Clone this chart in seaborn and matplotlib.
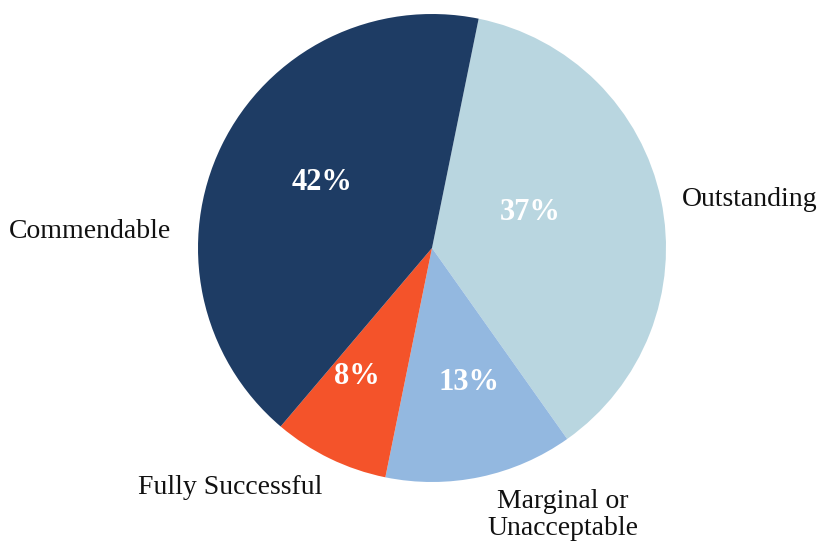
import matplotlib
matplotlib.use("Agg")
import matplotlib.pyplot as plt
import seaborn as sns

sns.set_theme(style="white")
plt.rcParams['font.family'] = ['Liberation Serif', 'DejaVu Serif']

# data (clockwise from top)
categories = ["Outstanding", "Marginal or\nUnacceptable", "Fully Successful", "Commendable"]
shares = [37, 13, 8, 42]
colors = ["#b9d6e0", "#93b8e0", "#f4532a", "#1e3c64"]

# label placement (pixel coords, y from top)
pct_pos = [(530, 212), (469, 383), (357, 377), (322, 183)]
name_pos = [(750, 200), (563, 515), (230, 487), (90, 232)]

W, H = 821, 551
fig = plt.figure(figsize=(W / 100, H / 100), dpi=100)
ax = fig.add_axes([0, 0, 1, 1])

cx, cy, r = 432, 248, 234
wedges, _ = ax.pie(shares, colors=colors, startangle=78.5, counterclock=False,
                   radius=r, center=(cx, H - cy), frame=True,
                   wedgeprops=dict(linewidth=0))

for v, (x, y) in zip(shares, pct_pos):
    ax.text(x, H - y, f"{v}%", color="white", fontsize=22, fontweight="bold",
            ha="center", va="center")

for name, (x, y) in zip(categories, name_pos):
    ax.text(x, H - y, name, color="#111111", fontsize=20, ha="center", va="center",
            linespacing=1.15)

ax.set_xlim(0, W)
ax.set_ylim(0, H)
ax.set_aspect("equal")
ax.axis("off")

fig.savefig("out.png", dpi=100, facecolor="white")
